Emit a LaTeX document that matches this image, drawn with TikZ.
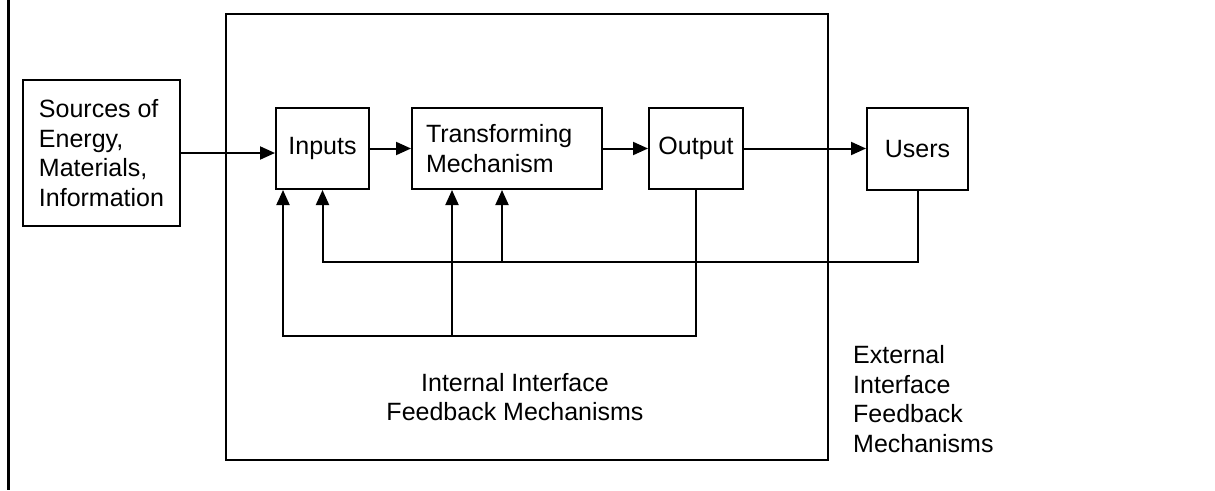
\documentclass[tikz,border=0pt]{standalone}
\usepackage{fontspec}
\setmainfont{Liberation Sans}
\usetikzlibrary{arrows.meta}
\begin{document}
\begin{tikzpicture}[x=1pt,y=-1pt,
  every node/.style={font=\fontsize{25}{29.5}\selectfont},
  blk/.style={draw,line width=2pt,inner sep=0pt,minimum height=81pt},
  arr/.style={line width=2pt,-{Triangle[length=15pt,width=13pt]}},
  lbl/.style={inner sep=0pt}]
\useasboundingbox (0,0) rectangle (1215,490);
% left border line
\coordinate (lt) at (8.5,0);
\coordinate (lb) at (8.5,490);
\draw[line width=3pt] (lt) -- (lb);
% system boundary
\node[draw,line width=2pt,inner sep=0pt,minimum width=602pt,minimum height=446pt] (sys) at (527,237) {};
% blocks
\node[blk,minimum width=157pt,minimum height=146pt,align=left] (src) at (101.5,153)
  {Sources of\\Energy,\\Materials,\\Information};
\node[blk,minimum width=93pt] (inp) at (322.5,148.5) {Inputs};
\node[blk,text width=162pt,inner xsep=14pt,align=left] (trn) at (507,148.5) {Transforming\\Mechanism};
\node[blk,minimum width=94pt] (out) at (696,148.5) {Output};
\node[blk,minimum width=101pt,minimum height=82pt] (usr) at (917.5,149) {Users};
% main flow
\draw[arr] (src.east) -- (src.east -| inp.west);
\draw[arr] (inp.east) -- (inp.east -| trn.west);
\draw[arr] (trn.east) -- (trn.east -| out.west);
\draw[arr] (out.east) -- (out.east -| usr.west);
% internal feedback loop
\coordinate (ilo) at (283,336);
\coordinate (itap) at (452,336);
\draw[arr] (out.south) |- (ilo) -- (ilo |- inp.south);
\draw[arr] (itap) -- (itap |- trn.south);
% external feedback loop
\coordinate (olo) at (322.5,262);
\coordinate (otap) at (502,262);
\draw[arr] (usr.south) |- (olo) -- (olo |- inp.south);
\draw[arr] (otap) -- (otap |- trn.south);
% labels
\node[lbl,align=center] (intl) at (515,397) {Internal Interface\\Feedback Mechanisms};
\node[lbl,align=left,anchor=west] (extl) at (853,399) {External\\Interface\\Feedback\\Mechanisms};
\end{tikzpicture}
\end{document}
